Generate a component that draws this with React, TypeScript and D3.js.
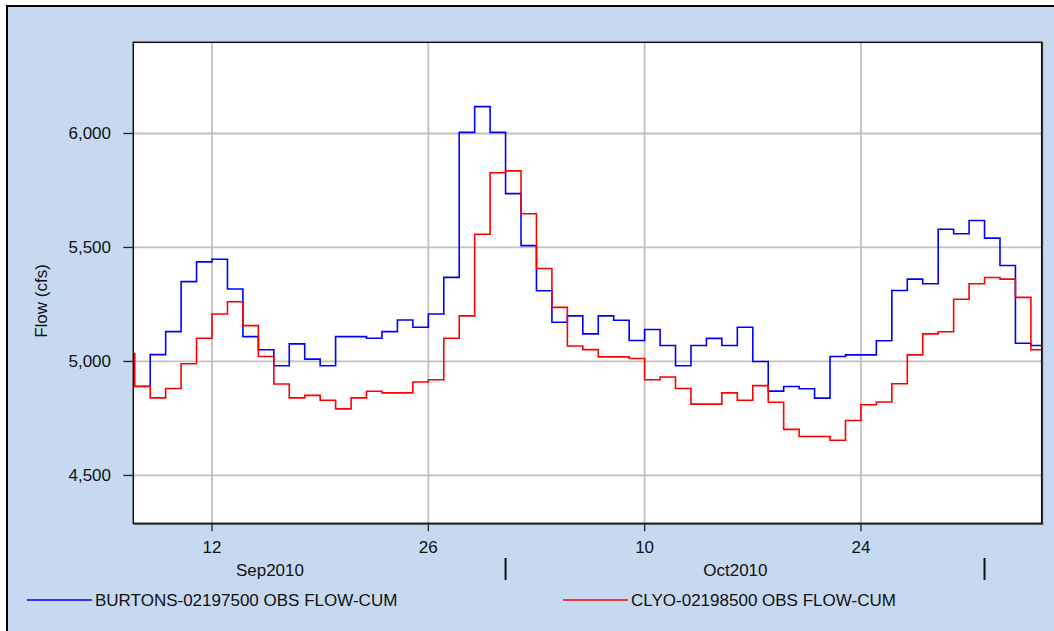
import React from 'react';
import * as d3 from 'd3';

// Daily flow values (cfs), each value covers one day starting at its date
const burtonsStart = '2010-09-07';
const burtonsFlow = [
  4890, 5030, 5131, 5350, 5437, 5448, 5318, 5109, 5051, 4981,
  5077, 5010, 4981, 5109, 5109, 5102, 5131, 5182, 5150, 5208,
  5369, 6005, 6118, 6005,
  5736, 5508, 5310, 5172, 5200, 5121, 5200, 5181, 5092, 5140,
  5070, 4981, 5070, 5101, 5070, 5150, 5000, 4870, 4890, 4880,
  4839, 5022, 5029, 5029, 5091, 5311, 5361, 5341, 5580, 5560, 5618,
  5541, 5421, 5080, 5070,
];
const clyoStart = '2010-09-06';
const clyoFlow = [
  5034,
  4891, 4840, 4881, 4990, 5102, 5208, 5262, 5157, 5022, 4901,
  4840, 4851, 4830, 4792, 4840, 4869, 4862, 4862, 4910, 4920,
  5102, 5200, 5558, 5828,
  5836, 5648, 5408, 5237, 5068, 5052, 5020, 5020, 5013, 4920,
  4932, 4881, 4813, 4813, 4862, 4830, 4894, 4821, 4702, 4671,
  4671, 4654, 4741, 4810, 4822, 4902, 5029, 5121, 5130, 5273, 5341,
  5368, 5361, 5281, 5051,
];

const seriesNames = ['BURTONS-02197500 OBS FLOW-CUM', 'CLYO-02198500 OBS FLOW-CUM'];
const seriesColors = ['#0000ff', '#ff0000'];

const yTicks = [4500, 5000, 5500, 6000];
const yDomain = [4290, 6400];
const xDomain = ['2010-09-06T21:44:00Z', '2010-11-04T16:48:00Z'];
const xTickDates = ['2010-09-12', '2010-09-26', '2010-10-10', '2010-10-24'];
const monthLabels = ['Sep2010', 'Oct2010'];
const monthLabelDates = ['2010-09-15T18:00:00Z', '2010-10-15T21:00:00Z'];
const monthStarts = ['2010-10-01', '2010-11-01'];
const yLabel = 'Flow (cfs)';

const W = 1054;
const H = 631;
const plot = { left: 133.3, top: 42.3, right: 1041.7, bottom: 523.3 };
const FONT = '"Liberation Sans", Arial, sans-serif';
const BG = '#c6d9f0';

function toSeries(start: string, values: number[]) {
  const s = new Date(start + 'T00:00:00Z');
  const pts = values.map((v, i) => ({ d: d3.utcDay.offset(s, i), v }));
  pts.push({ d: d3.utcDay.offset(s, values.length), v: values[values.length - 1] });
  return pts;
}

export default function App() {
  const x = d3.scaleUtc()
    .domain(xDomain.map((d) => new Date(d)))
    .range([plot.left, plot.right]);
  const y = d3.scaleLinear().domain(yDomain).range([plot.bottom, plot.top]);
  const fmt = d3.format(',');

  const line = d3.line<{ d: Date; v: number }>()
    .x((p) => x(p.d))
    .y((p) => y(p.v))
    .curve(d3.curveStepAfter);

  const series = [toSeries(burtonsStart, burtonsFlow), toSeries(clyoStart, clyoFlow)];
  const xTicks = xTickDates.map((d) => new Date(d + 'T00:00:00Z'));

  return (
    <svg
      width={W}
      height={H}
      style={{ position: 'absolute', left: 0, top: 0, display: 'block' }}
      fontFamily={FONT}
    >
      <defs>
        <clipPath id="plotClip">
          <rect x={plot.left} y={plot.top} width={plot.right - plot.left} height={plot.bottom - plot.top} />
        </clipPath>
      </defs>
      <rect x={0} y={0} width={W} height={H} fill="#ffffff" />
      <rect x={7} y={6} width={W - 7} height={H - 6} fill={BG} />
      <line x1={7} y1={5} x2={7} y2={H} stroke="#000" strokeWidth={2} />
      <line x1={6} y1={6} x2={W} y2={6} stroke="#000" strokeWidth={2} />

      {/* plot area */}
      <rect x={plot.left} y={plot.top} width={plot.right - plot.left} height={plot.bottom - plot.top} fill="#ffffff" />

      {/* grid */}
      {yTicks.map((t) => (
        <line key={'gy' + t} x1={plot.left} x2={plot.right} y1={y(t)} y2={y(t)} stroke="#c0c0c0" strokeWidth={1.8} />
      ))}
      {xTicks.map((t, i) => (
        <line key={'gx' + i} x1={x(t)} x2={x(t)} y1={plot.top} y2={plot.bottom} stroke="#c0c0c0" strokeWidth={1.8} />
      ))}

      {/* series */}
      <g clipPath="url(#plotClip)">
        {series.map((s, i) => (
          <path key={'s' + i} d={line(s) || ''} fill="none" stroke={seriesColors[i]} strokeWidth={1.6} />
        ))}
      </g>

      {/* frame */}
      <rect x={plot.left} y={plot.top} width={plot.right - plot.left} height={plot.bottom - plot.top} fill="none" stroke="#111" strokeWidth={1.5} />
      <line x1={plot.right + 0.8} x2={plot.right + 0.8} y1={plot.top} y2={plot.bottom + 1.5} stroke="#333" strokeWidth={1.2} />
      <line x1={plot.left} x2={plot.right + 1.5} y1={plot.bottom + 0.8} y2={plot.bottom + 0.8} stroke="#333" strokeWidth={1.2} />

      {/* y axis */}
      {yTicks.map((t) => (
        <g key={'yt' + t}>
          <line x1={plot.left - 10} x2={plot.left} y1={y(t)} y2={y(t)} stroke="#222" strokeWidth={1.3} />
          <text x={111} y={y(t)} dy="0.35em" textAnchor="end" fontSize={17} fill="#111">
            {fmt(t)}
          </text>
        </g>
      ))}
      <text
        transform={`translate(47, 301) rotate(-90)`}
        textAnchor="middle"
        fontSize={17}
        fill="#111"
      >
        {yLabel}
      </text>

      {/* x axis */}
      {xTicks.map((t, i) => (
        <g key={'xt' + i}>
          <line x1={x(t)} x2={x(t)} y1={plot.bottom} y2={plot.bottom + 8} stroke="#222" strokeWidth={1.3} />
          <text x={x(t)} y={553} textAnchor="middle" fontSize={17} fill="#111">
            {d3.utcFormat('%-d')(t)}
          </text>
        </g>
      ))}
      {monthLabels.map((m, i) => (
        <text key={m} x={x(new Date(monthLabelDates[i]))} y={576} textAnchor="middle" fontSize={17} fill="#111">
          {m}
        </text>
      ))}
      {monthStarts.map((m) => {
        const xx = x(new Date(m + 'T00:00:00Z'));
        return <line key={m} x1={xx} x2={xx} y1={558} y2={580} stroke="#111" strokeWidth={2} />;
      })}

      {/* legend */}
      {seriesNames.map((n, i) => {
        const lx = i === 0 ? 27 : 563;
        return (
          <g key={n}>
            <line x1={lx} x2={lx + 65} y1={600} y2={600} stroke={seriesColors[i]} strokeWidth={1.6} />
            <text x={lx + 68} y={600} dy="0.35em" fontSize={17} fill="#111">
              {n}
            </text>
          </g>
        );
      })}
    </svg>
  );
}
